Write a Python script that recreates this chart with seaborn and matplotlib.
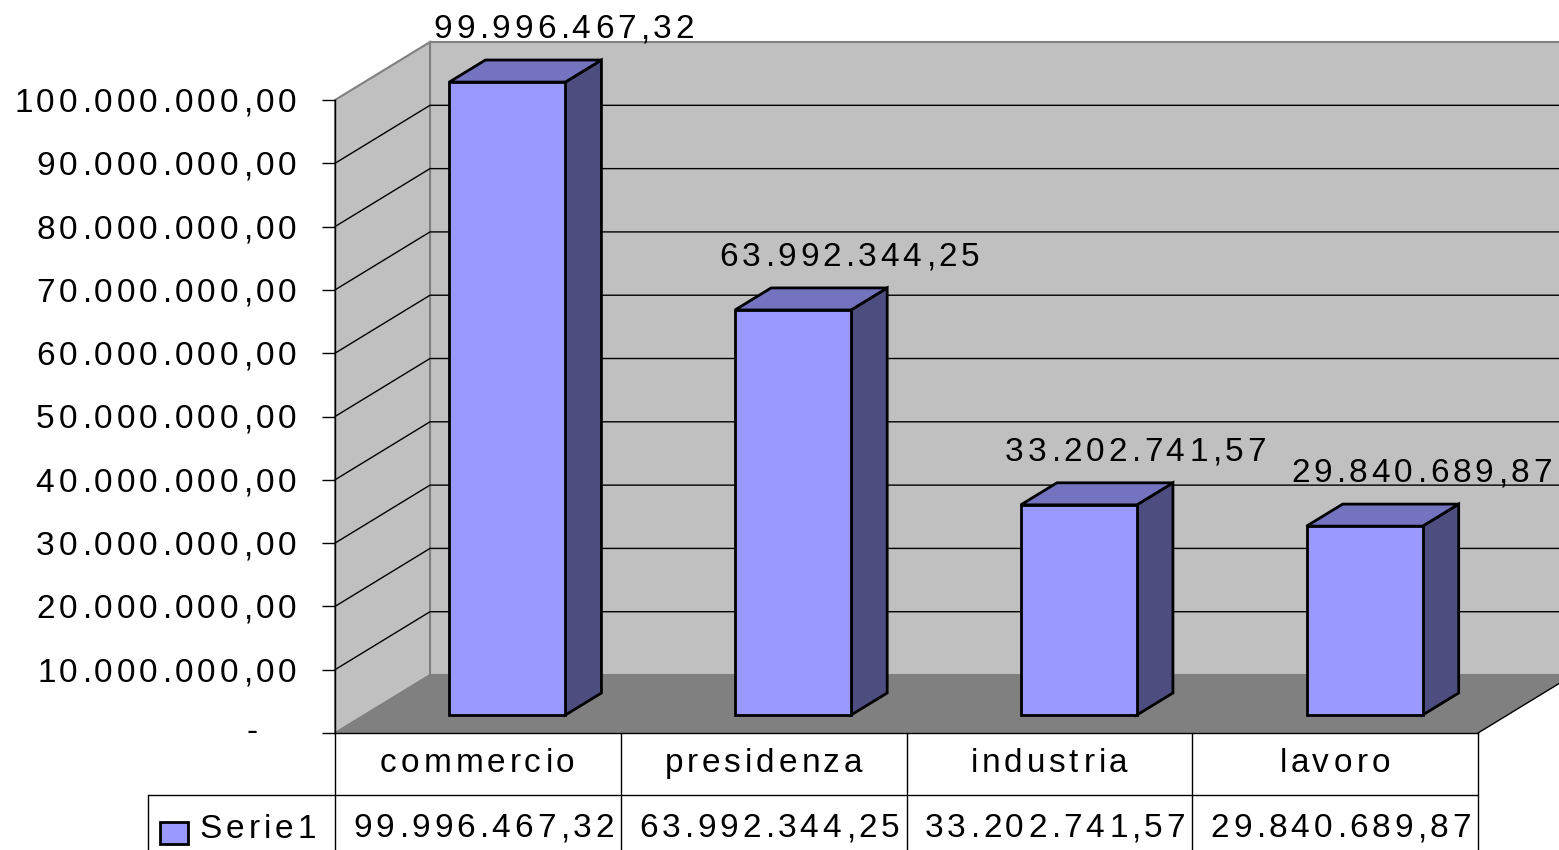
import matplotlib
matplotlib.use('Agg')
import matplotlib.pyplot as plt
import seaborn as sns
import numpy as np
from matplotlib.patches import Polygon, Rectangle
from matplotlib.transforms import Affine2D, ScaledTranslation, blended_transform_factory
from matplotlib.font_manager import FontProperties, findfont, get_font

try:
    from matplotlib.ft2font import LoadFlags
    NOHINT = LoadFlags.NO_HINTING
except ImportError:
    NOHINT = 2

# dati
categories = ['commercio', 'presidenza', 'industria', 'lavoro']
values = [99996467.32, 63992344.25, 33202741.57, 29840689.87]
series_name = 'Serie1'
y_ticks = [0, 10e6, 20e6, 30e6, 40e6, 50e6, 60e6, 70e6, 80e6, 90e6, 100e6]

# colori stile Excel
FRONT = '#9999FF'
TOP = '#7373BF'
SIDE = '#4D4D80'
WALL = '#C0C0C0'
FLOOR = '#808080'

DPI = 100
FONT_PT = 24
TRACK = 3.9          # spaziatura lettere in pixel
DX = 95 / 285.75     # profondita' in unita' categoria
DY = 9.16e6          # profondita' in unita' valore
D0 = 0.31            # faccia frontale delle barre
THICK = 0.38         # spessore barre


def fmt_it(v):
    if v == 0:
        return '-'
    s = f'{v:,.2f}'
    return s.replace(',', '#').replace('.', ',').replace('#', '.')


sns.set_theme(style='white')
plt.rcParams['font.family'] = ['Liberation Sans', 'DejaVu Sans']
FONT = FontProperties(family='Liberation Sans', size=FONT_PT)
_face = get_font(findfont(FONT))


def glyph(ch):
    _face.set_size(FONT_PT, DPI)
    g = _face.load_char(ord(ch), flags=NOHINT)
    return g.linearHoriAdvance / 65536, g.horiBearingX / 64


def spaced(ax, x, y, s, transform, ha='center', dx=0, dy=0, zorder=6):
    """Testo con spaziatura tra le lettere (come in Excel)."""
    mets = [glyph(c) for c in s]
    total = sum(m[0] for m in mets) + TRACK * (len(s) - 1)
    pos = {'left': 0, 'center': -total / 2, 'right': -total}[ha] + dx
    fig = ax.figure
    for c, (adv, lsb) in zip(s, mets):
        if c != ' ':
            tr = transform + ScaledTranslation((pos + lsb) / DPI, -dy / DPI, fig.dpi_scale_trans)
            ax.text(x, y, c, transform=tr, fontproperties=FONT, ha='left', va='baseline',
                    color='black', clip_on=False, zorder=zorder)
        pos += adv + TRACK


fig = plt.figure(figsize=(15.59, 8.5), dpi=DPI, facecolor='white')
ax = fig.add_axes([335 / 1559, 117 / 850, 1143 / 1559, 633 / 850])
ax.patch.set_visible(False)

sns.barplot(x=categories, y=values, color=FRONT, saturation=1, width=0.406,
            edgecolor='black', linewidth=2, errorbar=None, ax=ax)

ax.set_xlim(-0.5, len(categories) - 0.5)
ax.set_ylim(0, 1e8)
ax.set_xlabel('')
ax.set_ylabel('')
ax.set_xticks([])
ax.set_yticks(y_ticks)
ax.tick_params(axis='y', left=True, length=9.4, width=1, color='black', labelleft=False)
for side in ['top', 'right']:
    ax.spines[side].set_visible(False)
ax.spines['left'].set_color('black')
ax.spines['left'].set_linewidth(1)
ax.spines['bottom'].set_color('black')
ax.spines['bottom'].set_linewidth(1)

x0, x1 = -0.5, len(categories) - 0.5
ymax = y_ticks[-1]

# pareti e pavimento
back = Polygon([(x0 + DX, DY), (x1 + DX, DY), (x1 + DX, ymax + DY), (x0 + DX, ymax + DY)],
               closed=True, fc=WALL, ec=FLOOR, lw=1.5, zorder=0.5, clip_on=False)
left_wall = Polygon([(x0, 0), (x0 + DX, DY), (x0 + DX, ymax + DY), (x0, ymax)],
                    closed=True, fc=WALL, ec=FLOOR, lw=1.5, zorder=0.5, clip_on=False)
floor = Polygon([(x0, 0), (x1, 0), (x1 + DX, DY), (x0 + DX, DY)],
                closed=True, fc=FLOOR, ec='none', zorder=0.9, clip_on=False)
for p in (back, left_wall, floor):
    ax.add_patch(p)
ax.plot([x1, x1 + DX], [0, DY], color='black', lw=1, zorder=0.95, clip_on=False)

# griglia
for t in y_ticks[1:-1]:
    ax.plot([x0, x0 + DX, x1 + DX], [t, t + DY, t + DY], color='black', lw=1,
            zorder=0.8, clip_on=False)

# barre 3D
shift = Affine2D().translate(D0 * DX, D0 * DY) + ax.transData
bars = list(ax.containers[0])
for i, bar in enumerate(bars):
    bx, bw, bh = bar.get_x(), bar.get_width(), bar.get_height()
    bar.set_transform(shift)
    bar.set_zorder(4)
    bar.set_clip_on(False)
    side = Polygon([(bx + bw, 0), (bx + bw + THICK * DX, THICK * DY),
                    (bx + bw + THICK * DX, bh + THICK * DY), (bx + bw, bh)],
                   closed=True, fc=SIDE, ec='black', lw=2, zorder=3, clip_on=False,
                   transform=shift)
    top = Polygon([(bx, bh), (bx + bw, bh), (bx + bw + THICK * DX, bh + THICK * DY),
                   (bx + THICK * DX, bh + THICK * DY)],
                  closed=True, fc=TOP, ec='black', lw=2, zorder=3, clip_on=False,
                  transform=shift)
    ax.add_patch(side)
    ax.add_patch(top)
    # etichetta dati
    spaced(ax, bx + bw / 2, bh, fmt_it(values[i]), shift, ha='center', dx=55, dy=-44)

# etichette asse y
ytr = blended_transform_factory(ax.transAxes, ax.transData)
for t in y_ticks:
    lab = fmt_it(t)
    if lab == '-':
        spaced(ax, 0, t, lab, ytr, ha='left', dx=-90, dy=8)
    else:
        spaced(ax, 0, t, lab, ytr, ha='right', dx=-40, dy=12)

# tabella dati
xtr = blended_transform_factory(ax.transData, ax.transAxes)
ybot = -117 / 633
yrow = -62 / 633
xleg = (148 - 335) / 1143
for xb in np.arange(x0, x1 + 1):
    ax.plot([xb, xb], [0, ybot], color='black', lw=1, transform=xtr, clip_on=False, zorder=5)
ax.plot([xleg, 1], [yrow, yrow], color='black', lw=1, transform=ax.transAxes,
        clip_on=False, zorder=5)
ax.plot([xleg, xleg], [yrow, ybot], color='black', lw=1, transform=ax.transAxes,
        clip_on=False, zorder=5)

for i, (cat, v) in enumerate(zip(categories, values)):
    spaced(ax, i, 0, cat, xtr, ha='center', dx=-2, dy=39)
    spaced(ax, i, 0, fmt_it(v), xtr, ha='center', dx=4, dy=104)

# legenda nella tabella
fig.add_artist(Rectangle((160 / 1559, (850 - 844) / 850), 28 / 1559, 22 / 850,
                         transform=fig.transFigure, fc=FRONT, ec='black', lw=2))
spaced(ax, 0, 0, series_name, ax.transAxes, ha='left', dx=198 - 335, dy=105)

fig.savefig('out.png', dpi=DPI, facecolor='white')
